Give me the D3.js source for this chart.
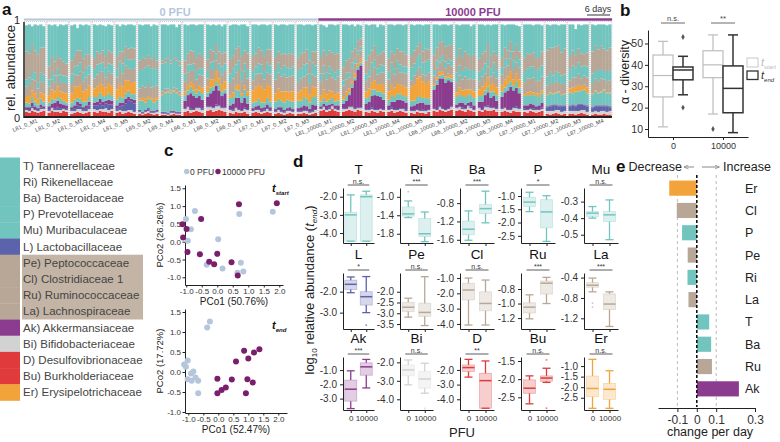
<!DOCTYPE html>
<html><head><meta charset="utf-8">
<script src="https://cdn.jsdelivr.net/npm/d3@7"></script>
<style>body{margin:0;background:#fff}svg{display:block}</style>
</head><body><svg width="780" height="442"></svg>
<script>
// ---------- DATA ----------
const aGroups = ["L81_0_M1","L81_0_M2","L81_0_M3","L81_0_M4","L81_0_M5","L85_0_M2","L85_0_M4","L86_0_M1","L86_0_M2","L86_0_M3","L87_0_M1","L87_0_M2","L87_0_M3",
"L81_10000_M1","L81_10000_M2","L81_10000_M3","L81_10000_M4","L81_10000_M5","L86_10000_M1","L86_10000_M2","L86_10000_M3","L86_10000_M4","L87_10000_M1","L87_10000_M2","L87_10000_M3","L87_10000_M4"];
const aDays = ["d0","d1","d2","d3","d4","d5","d6"];
const aD = [[5,4,6,5,4,5,6],[4,6,5,5,4,6,5],[3,4,5,4,3,4,5],[5,4,6,5,5,4,6],[4,5,3,4,5,4,3],[3,2,3,4,3,2,3],[2,2,1,2,3,2,2],[5,6,4,5,6,5,4],[6,7,5,6,7,6,5],[4,3,5,4,4,5,3],[4,5,4,3,4,5,4],[3,4,3,2,3,4,3],[3,3,4,3,2,3,4],
[6,7,5,6,8,6,5],[5,6,7,6,5,7,6],[5,4,6,5,4,6,5],[5,6,4,5,6,5,4],[4,3,5,4,4,3,5],[6,5,7,6,5,6,7],[6,7,6,5,7,6,5],[6,5,7,6,6,7,5],[5,6,5,4,6,5,5],[5,4,6,5,4,5,6],[3,2,3,4,3,2,3],[3,3,2,3,4,3,2],[2,3,2,2,3,2,2]];
const aBi = [[2,2,3,2,2,3,2],[2,3,2,2,3,2,2],[3,2,3,4,3,2,3],[3,3,2,3,4,3,2],[2,2,3,2,2,3,2],[2,1,2,2,1,2,2],[1,1,1,2,1,1,1],[3,4,3,2,3,4,3],[4,3,4,5,4,3,4],[3,3,4,3,2,3,4],[2,2,3,2,2,3,2],[2,3,2,2,3,2,2],[2,2,2,3,2,2,3],
[2,3,2,2,3,2,2],[3,2,3,4,3,2,3],[2,3,2,2,3,2,2],[2,2,3,2,2,3,2],[2,3,2,2,2,3,2],[2,2,3,2,2,2,3],[3,3,2,3,4,3,2],[3,2,3,4,3,2,3],[3,3,2,3,3,4,3],[2,3,2,2,3,2,2],[3,4,3,3,4,3,3],[3,3,4,3,3,4,3],[3,3,3,4,3,3,4]];
const aL = [[1,1,2,1,1,2,1],[2,1,2,3,2,1,2],[2,3,4,3,2,3,4],[4,5,6,4,5,6,5],[3,4,6,8,10,9,9],[1,1,1,2,1,1,1],[1,1,1,1,1,1,1],[1,1,2,1,1,1,2],[1,1,1,2,1,1,1],[1,2,1,1,1,2,1],[1,1,1,1,2,1,1],[1,1,2,1,1,1,1],[1,1,1,1,1,2,1],
[1,1,1,2,1,1,1],[1,1,1,1,1,1,1],[1,1,2,1,1,1,1],[1,2,1,1,1,1,2],[1,1,1,1,2,1,1],[1,1,1,1,1,1,1],[1,1,2,1,1,2,1],[1,1,1,2,1,1,1],[1,1,1,1,1,2,1],[2,1,1,2,1,1,2],[4,5,6,5,4,6,5],[5,6,5,7,6,5,6],[4,5,6,5,5,6,4]];
const aAk = [[2,3,4,3,2,3,2],[3,4,6,7,5,4,3],[2,3,4,3,2,3,4],[3,4,5,4,3,5,4],[3,4,3,5,4,3,4],[1,1,1,1,1,1,1],[1,1,1,1,1,1,1],[8,12,16,14,10,12,9],[10,14,18,20,16,12,15],[4,6,10,12,8,10,6],[2,3,4,3,2,4,3],[2,2,3,2,2,3,2],[3,4,5,4,3,6,4],
[2,3,4,3,2,3,4],[5,8,12,20,30,40,45],[6,8,12,15,14,12,10],[4,6,8,10,9,8,7],[4,5,6,8,7,6,5],[20,26,30,32,28,30,26],[3,4,5,4,3,5,4],[6,8,12,14,10,12,8],[12,16,20,24,18,20,16],[3,4,5,4,3,4,5],[1,1,1,1,1,1,1],[1,1,1,1,1,1,1],[1,1,1,1,1,1,1]];
const aT = [[5,4,6,5,4,6,5],[4,5,3,4,5,4,3],[5,6,4,5,6,4,5],[6,5,7,6,5,7,6],[6,7,5,6,7,5,6],[10,12,8,10,12,9,11],[18,20,22,19,21,20,18],[6,5,7,6,5,6,7],[5,6,4,5,6,5,4],[8,7,9,8,7,9,8],[6,5,7,6,5,7,6],[8,9,7,8,9,7,8],[8,7,9,8,7,8,9],
[5,6,4,5,6,4,5],[4,5,3,4,3,4,3],[6,5,7,6,5,6,7],[6,7,5,6,7,5,6],[6,5,7,6,5,7,6],[4,5,3,4,5,3,4],[8,9,7,8,9,7,8],[6,7,5,6,7,5,6],[6,5,7,6,5,7,6],[10,11,9,10,12,9,10],[12,13,11,12,14,11,12],[14,12,15,13,14,16,13],[14,15,13,14,16,13,14]];
const aEr = [[6,8,7,9,6,7,8],[8,10,9,11,8,9,10],[10,14,12,15,11,13,12],[9,11,10,12,9,11,10],[11,13,12,14,11,12,13],[2,3,4,3,2,4,3],[1,1,1,1,1,1,1],[4,6,5,7,4,5,6],[6,9,8,10,7,8,9],[3,5,4,6,3,4,5],[13,16,15,17,14,15,16],[9,11,10,12,9,10,11],[9,11,10,12,9,11,10],
[7,9,8,10,7,8,9],[4,5,4,3,4,3,4],[7,9,8,10,7,8,9],[9,11,10,12,9,11,10],[15,18,20,22,18,16,19],[2,3,4,3,2,4,3],[5,7,6,8,5,6,7],[7,9,8,10,7,9,8],[7,9,8,10,7,8,9],[2,3,4,3,2,4,3],[1,1,1,1,1,1,1],[4,6,5,7,4,5,6],[1,1,1,1,1,1,1]];
const aLa = [[11,13,12,14,11,12,13],[9,11,10,12,9,11,10],[11,13,12,14,11,13,12],[11,13,12,14,11,12,13],[13,15,14,16,13,14,15],[11,13,12,14,11,13,12],[3,4,3,2,3,4,3],[11,13,12,14,11,12,13],[9,11,10,12,9,10,11],[13,15,14,16,13,15,14],[11,13,12,14,11,12,13],[15,17,16,18,15,16,17],[11,13,12,14,11,13,12],
[15,17,16,18,15,16,17],[11,13,12,14,11,10,9],[11,13,12,14,11,12,13],[13,15,14,16,13,14,15],[7,9,8,10,7,8,9],[9,11,10,12,9,11,10],[11,13,12,14,11,12,13],[9,11,10,12,9,11,10],[11,13,12,14,11,12,13],[13,15,14,16,13,14,15],[9,11,10,12,9,11,10],[9,11,10,12,9,10,11],[11,13,12,14,11,12,13]];
const aBa = [[8,7,9,8,7,9,8],[8,9,7,8,9,7,8],[10,9,11,10,9,11,10],[10,11,9,10,11,9,10],[10,9,11,10,9,11,10],[20,18,22,19,21,20,18],[30,28,32,29,31,30,28],[8,9,7,8,9,7,8],[8,7,9,8,7,9,8],[10,11,9,10,11,9,10],[10,9,11,10,9,11,10],[10,11,9,10,11,9,10],[12,11,13,12,11,13,12],
[8,9,7,8,9,7,8],[6,7,5,6,5,4,4],[8,7,9,8,7,9,8],[8,9,7,8,9,7,8],[14,13,15,14,13,15,14],[6,7,5,6,7,5,6],[10,11,9,10,11,9,10],[10,9,11,10,9,11,10],[8,9,7,8,9,7,8],[12,11,13,12,11,13,12],[10,11,9,10,11,9,10],[12,13,11,12,13,11,12],[10,9,11,10,9,11,10]];
const aRu = [[30,26,28,24,30,27,29],[14,16,15,13,17,15,14],[14,12,16,13,15,14,12],[12,14,11,13,12,14,13],[12,11,13,10,12,13,11],[10,12,9,11,10,12,9],[3,4,3,3,2,3,4],[14,12,15,13,14,16,13],[12,14,11,10,13,14,12],[16,14,17,15,16,14,17],[16,14,17,15,16,14,17],[14,12,15,13,14,16,13],[14,16,13,15,14,12,15],
[18,16,19,17,18,20,17],[14,13,15,12,11,10,9],[14,16,13,15,14,12,15],[14,12,15,13,14,16,13],[12,14,11,13,12,14,11],[16,14,17,15,16,14,17],[16,18,15,17,16,14,17],[14,16,13,15,14,12,15],[10,12,9,11,10,12,9],[14,16,13,15,14,12,15],[28,26,30,27,29,25,28],[14,16,13,15,14,12,15],[24,26,23,25,24,22,25]];
const aMu = [[28,31,20,28,31,25,23],[45,33,40,32,37,39,42],[38,33,24,28,36,32,31],[36,28,31,27,32,28,29],[35,27,29,23,26,25,25],[39,35,37,33,35,35,38],[39,37,33,39,35,33,40],[39,30,28,29,35,31,34],[38,26,29,20,29,29,30],[36,33,26,23,34,28,29],[34,31,24,28,34,26,27],[35,28,32,31,31,31,32],[36,31,29,27,39,28,29],
[35,27,30,28,30,31,31],[46,39,36,29,24,18,14],[39,32,28,23,30,31,28],[37,29,31,26,29,28,32],[34,27,24,19,28,26,27],[33,25,18,18,24,22,22],[36,25,35,29,32,33,32],[37,31,28,20,32,29,33],[36,24,28,18,29,21,27],[36,31,32,29,36,35,28],[28,24,25,24,22,30,26],[34,28,28,26,30,32,30],[29,22,27,23,26,27,25]];

const legendNames = ["T) Tannerellaceae","Ri) Rikenellaceae","Ba) Bacteroidaceae","P) Prevotellaceae","Mu) Muribaculaceae","L) Lactobacillaceae","Pe) Peptococcaceae","Cl) Clostridiaceae 1","Ru) Ruminococcaceae","La) Lachnospiraceae","Ak) Akkermansiaceae","Bi) Bifidobacteriaceae","D) Desulfovibrionaceae","Bu) Burkholderiaceae","Er) Erysipelotrichaceae"];
const legendKeys = ["T","Ri","Ba","P","Mu","L","Pe","Cl","Ru","La","Ak","Bi","D","Bu","Er"];

// panel b
const bCats = ["0","10000"];
const bStart = [[11,25,35,44.6,51],[17,34,40,46.6,54]];
const bEnd = [[26,33,37.6,39,44],[8.3,17.6,29,39.5,54]];
const bStartOut = [[],[10]];
const bEndOut = [[53,20],[]];
const bSig = ["n.s.","**"];
const bTicks = [10,20,30,40,50];

// panel c
const cStartX0 = [-0.72,-1.01,-0.85,-0.95,0.03,0.71,1.79,-0.34,0.17,0.76,0.65,0.84];
const cStartY0 = [0.86,0.64,0.35,0.03,0.07,0.78,0.84,-0.65,-0.75,-0.59,-0.87,-0.84];
const cStartX1 = [-1.12,-0.99,-0.52,-1.10,-0.96,-0.56,-0.26,-0.10,0.0,0.46,0.66,0.70,1.92];
const cStartY1 = [0.49,0.36,0.64,0.12,-0.29,-0.35,-0.56,-0.63,-0.34,-0.58,-0.95,1.05,1.08];
const cEndX0 = [-0.28,-0.37,-1.14,-1.08,-1.02,-0.91,-0.83,-1.02,-0.89,-0.76,-0.67,-0.67];
const cEndY0 = [1.26,1.11,0.19,0.13,0.29,-0.04,0.01,-0.18,-0.22,-0.14,-0.22,-0.53];
const cEndX1 = [-0.03,-0.03,0.11,0.25,0.45,0.59,0.86,1.0,1.19,1.37,0.97,1.15,0.92];
const cEndY1 = [-0.17,-0.53,-0.45,-0.39,-0.19,0.26,0.53,0.34,0.49,0.57,-0.18,-0.26,-0.53];
const cTicksX = [-1.0,-0.5,0.0,0.5,1.0,1.5,2.0];
const cTicksY = [-1.0,-0.5,0.0,0.5,1.0,1.5];

// panel d
const dFam = ["T","Ri","Ba","P","Mu","L","Pe","Cl","Ru","La","Ak","Bi","D","Bu","Er"];
const dSig = ["n.s.","***","***","*","n.s.","*","n.s.","n.s.","***","***","***","n.s.","**","n.s.","n.s."];
const dBox0 = [[-4.45,-4.45,-3.0,-2.86,-1.9],[-1.45,-1.42,-1.37,-1.22,-1.09],[-1.61,-1.49,-1.37,-1.19,-0.97],[-1.59,-1.4,-1.23,-1.05,-0.86],[-0.40,-0.39,-0.37,-0.36,-0.33],
[-2.05,-1.9,-1.65,-1.45,-1.3],[-3.18,-2.92,-2.72,-2.49,-2.3],[-4.07,-2.43,-1.78,-1.34,-1.0],[-1.21,-1.13,-1.05,-0.99,-0.88],[-0.68,-0.59,-0.55,-0.5,-0.41],
[-3.7,-3.18,-2.34,-1.7,-1.05],[-3.22,-2.73,-2.41,-2.14,-1.87],[-2.49,-2.11,-1.84,-1.66,-1.28],[-2.68,-2.39,-2.25,-2.02,-1.91],[-3.0,-2.45,-2.06,-1.47,-0.68]];
const dBox1 = [[-4.45,-4.45,-2.0,-1.9,-1.7],[-1.97,-1.86,-1.8,-1.47,-1.33],[-1.23,-1.03,-0.92,-0.83,-0.54],[-2.71,-2.2,-1.6,-1.14,-0.99],[-0.53,-0.42,-0.38,-0.36,-0.29],
[-3.0,-2.64,-2.24,-2.0,-1.28],[-3.57,-3.14,-2.96,-2.53,-1.3],[-4.07,-3.14,-2.66,-1.9,-1.13],[-1.0,-0.87,-0.72,-0.69,-0.64],[-1.36,-1.03,-0.92,-0.72,-0.68],
[-2.25,-1.36,-0.77,-0.49,-0.25],[-3.67,-3.4,-2.9,-2.5,-2.05],[-4.61,-4.61,-2.73,-2.23,-1.39],[-2.09,-2.06,-1.97,-1.91,-1.7],[-3.0,-2.58,-2.1,-1.82,-1.22]];
const dOut0 = [[],[-0.89],[],[],[],[],[],[],[],[-0.9,-0.98],[],[],[],[],[]];
const dOut1 = [[],[],[],[],[],[-3.6],[],[],[],[],[],[-4.5],[],[-1.47,-2.8],[]];
const dDomain = [[-4.55,-1.52],[-2.0,-0.81],[-1.67,-0.47],[-2.77,-0.7],[-0.55,-0.218],
[-3.78,-1.11],[-3.73,-1.13],[-4.33,-0.67],[-1.35,-0.58],[-1.41,-0.31],
[-3.8,-0.08],[-4.58,-1.71],[-4.73,-1.12],[-2.85,-1.39],[-3.08,-0.57]];
const dTicks = [[-2,-3,-4],[-1.0,-1.4,-1.8],[-0.8,-1.2,-1.6],[-1.0,-1.5,-2.0,-2.5],[-0.3,-0.4,-0.5],
[-2,-3],[-2.0,-2.5,-3.0,-3.5],[-1,-2,-3,-4],[-0.8,-1.0,-1.2],[-0.4,-0.8,-1.2],
[-1,-2,-3],[-2,-3,-4],[-2,-3,-4],[-1.5,-2.0,-2.5],[-1.0,-1.5,-2.0,-2.5]];
const dCats = ["0","10000"];

// panel e
const eCats = ["Er","Cl","P","Pe","Ri","La","T","Ba","Ru","Ak"];
const eVals = [-0.142,-0.103,-0.076,-0.047,-0.048,-0.043,0.064,0.074,0.078,0.217];
const eTicks = [-0.1,0,0.1,0.3];

// ---------- STYLE ----------
const FONT = "'Liberation Sans', Arial, Helvetica, sans-serif";
const TEAL="#72c5bf", TAN="#b8a797", BLUE="#5b63ad", PURPLE="#8c3c8e", GRAY="#d2d2d2", RED="#e03a3c", ORANGE="#f2a33a";
const famColor = {T:TEAL,Ri:TEAL,Ba:TEAL,P:TEAL,Mu:TEAL,L:BLUE,Pe:TAN,Cl:TAN,Ru:TAN,La:TAN,Ak:PURPLE,Bi:GRAY,D:RED,Bu:RED,Er:ORANGE};
const PFU0 = "#b5c6dc", PFU1 = "#8c3c8e", CPUR = "#7a1f6c";
const hy = s => s.replace("\u2212","-");
const f1 = d => hy(d3.format(".1f")(d));

const svg = d3.select("svg").attr("font-family", FONT);
function T(g,x,y,s,o={}){const t=g.append("text").attr("x",x).attr("y",y).text(s).attr("font-size",o.fs||11).attr("fill",o.fill||"#222");
 if(o.anchor) t.attr("text-anchor",o.anchor); if(o.bold) t.attr("font-weight","bold"); if(o.italic) t.attr("font-style","italic");
 if(o.rot!=null) t.attr("transform",`rotate(${o.rot},${x},${y})`); return t;}
function styleAxis(g,fs){g.attr("font-family",FONT);g.selectAll("path.domain").attr("stroke","#222").attr("stroke-width",1);
 g.selectAll(".tick line").attr("stroke","#222");g.selectAll(".tick text").attr("font-size",fs).attr("fill","#333");}

// ---------- PANEL A ----------
const A = svg.append("g");
T(A,2,15,"a",{fs:17,bold:true,fill:"#111"});
const aX = d3.scaleBand().domain(aGroups).range([24,612]).paddingInner(0.115).paddingOuter(0.04);
const aY = d3.scaleLinear().domain([0,100]).range([116.5,23.5]);
const keys = ["D","Bi","L","Ak","T","Er","La","Ba","Ru","Mu"];
const src = {D:aD,Bi:aBi,L:aL,Ak:aAk,T:aT,Er:aEr,La:aLa,Ba:aBa,Ru:aRu,Mu:aMu};
const kCol = {D:RED,Bi:GRAY,L:BLUE,Ak:PURPLE,T:TEAL,Er:ORANGE,La:TAN,Ba:TEAL,Ru:TAN,Mu:TEAL};
const rows=[];
aGroups.forEach((g,gi)=>aDays.forEach((d,di)=>{const r={g,d};keys.forEach(k=>r[k]=src[k][gi][di]);rows.push(r);}));
const inner = d3.scaleBand().domain(aDays).range([0,aX.bandwidth()]).padding(0);
A.selectAll("rect.frame").data(aGroups).join("rect").attr("class","frame")
 .attr("x",g=>aX(g)-0.8).attr("y",21.5).attr("width",aX.bandwidth()+1.6).attr("height",95)
 .attr("fill","#fff").attr("stroke","#bbb").attr("stroke-width",0.8).attr("stroke-dasharray","1,1");
const series = d3.stack().keys(keys)(rows);
series.forEach(s=>{
 A.append("g").selectAll("rect").data(s).join("rect")
  .attr("x",p=>aX(p.data.g)+inner(p.data.d)).attr("width",inner.bandwidth()+0.35)
  .attr("y",p=>aY(p[1])).attr("height",p=>aY(p[0])-aY(p[1])).attr("fill",kCol[s.key]);
});
A.append("line").attr("x1",24).attr("x2",612).attr("y1",117).attr("y2",117).attr("stroke","#222").attr("stroke-width",2);
A.append("line").attr("x1",24).attr("x2",24).attr("y1",22).attr("y2",118).attr("stroke","#222").attr("stroke-width",1.5);
T(A,20,24,"1",{fs:11,anchor:"end"});
T(A,20,122,"0",{fs:11,anchor:"end"});
T(A,15,68,"rel. abundance",{fs:13,anchor:"middle",rot:-90});
aGroups.forEach(g=>{const x=aX(g)+aX.bandwidth()/2+3;
 T(A,x,122,g,{fs:5.6,anchor:"end",fill:"#444"}).attr("transform",`rotate(-22,${x},122)`);});
const g0 = aGroups.slice(0,13), g1 = aGroups.slice(13);
A.append("line").attr("x1",aX(g0[0])-1).attr("x2",aX(g0[12])+aX.bandwidth()+1).attr("y1",19.5).attr("y2",19.5).attr("stroke",PFU0).attr("stroke-width",2);
A.append("line").attr("x1",aX(g1[0])-1).attr("x2",aX(g1[12])+aX.bandwidth()+1).attr("y1",19.5).attr("y2",19.5).attr("stroke",PFU1).attr("stroke-width",2.5);
T(A,175,16,"0 PFU",{fs:11,bold:true,anchor:"middle",fill:PFU0});
T(A,473,16,"10000 PFU",{fs:11,bold:true,anchor:"middle",fill:PFU1});
T(A,598,12,"6 days",{fs:9,anchor:"middle",fill:"#333"});
A.append("line").attr("x1",587).attr("x2",610).attr("y1",15).attr("y2",15).attr("stroke","#777").attr("stroke-width",1.5);

// ---------- LEGEND ----------
const Lg = svg.append("g");
const lStep = 16.2, lTop = 157.5;
Lg.append("rect").attr("x",22).attr("y",lTop+6*lStep).attr("width",121).attr("height",4*lStep).attr("fill",TAN).attr("opacity",0.85);
legendKeys.forEach((k,i)=>{
 Lg.append("rect").attr("x",0).attr("y",lTop+i*lStep).attr("width",20).attr("height",lStep+0.3).attr("fill",famColor[k]);
 T(Lg,23,lTop+i*lStep+lStep/2+4,legendNames[i],{fs:11.5,fill:"#444"});
});

// ---------- PANEL B ----------
const B = svg.append("g");
T(B,620,16,"b",{fs:17,bold:true,fill:"#111"});
const by = d3.scaleLinear().domain([6.26,56.3]).range([137,30]);
const bx = d3.scalePoint().domain(bCats).range([648,748]).padding(0.5);
const bya = B.append("g").attr("transform","translate(648,0)").call(d3.axisLeft(by).tickValues(bTicks).tickSize(3).tickPadding(2).tickSizeOuter(0));
styleAxis(bya,10.5);
const bxa = B.append("g").attr("transform","translate(0,137)").call(d3.axisBottom(bx).tickSize(3).tickSizeOuter(0));
styleAxis(bxa,9);
T(B,629,72,"\u03b1 - diversity",{fs:12.5,anchor:"middle",rot:-90});
function bBox(stats,cx,col,sw){
 const [wl,q1,md,q3,wh]=stats;
 B.append("line").attr("x1",cx).attr("x2",cx).attr("y1",by(wh)).attr("y2",by(q3)).attr("stroke",col).attr("stroke-width",sw);
 B.append("line").attr("x1",cx).attr("x2",cx).attr("y1",by(q1)).attr("y2",by(wl)).attr("stroke",col).attr("stroke-width",sw);
 [wl,wh].forEach(v=>B.append("line").attr("x1",cx-5).attr("x2",cx+5).attr("y1",by(v)).attr("y2",by(v)).attr("stroke",col).attr("stroke-width",sw));
 B.append("rect").attr("x",cx-10).attr("width",20).attr("y",by(q3)).attr("height",by(q1)-by(q3)).attr("fill","#fff").attr("stroke",col).attr("stroke-width",sw);
 B.append("line").attr("x1",cx-10).attr("x2",cx+10).attr("y1",by(md)).attr("y2",by(md)).attr("stroke",col).attr("stroke-width",sw);
}
bCats.forEach((c,i)=>{
 const cx=bx(c);
 bBox(bStart[i],cx-10,"#bdbdbd",1.2);
 bBox(bEnd[i],cx+10,"#333",1.5);
 bStartOut[i].forEach(v=>B.append("path").attr("d",d3.symbol(d3.symbolDiamond,10)()).attr("transform",`translate(${cx-10},${by(v)})`).attr("fill","#555"));
 bEndOut[i].forEach(v=>B.append("path").attr("d",d3.symbol(d3.symbolDiamond,10)()).attr("transform",`translate(${cx+10},${by(v)})`).attr("fill","#555"));
 B.append("line").attr("x1",cx-12).attr("x2",cx+12).attr("y1",23).attr("y2",23).attr("stroke","#444").attr("stroke-width",0.8);
 T(B,cx,21,bSig[i],{fs:7.5,anchor:"middle",fill:"#444"});
});
B.append("rect").attr("x",747).attr("y",58).attr("width",11).attr("height",9).attr("fill","#fff").attr("stroke","#c8c8c8").attr("stroke-width",1);
B.append("rect").attr("x",747).attr("y",71).attr("width",11).attr("height",8.5).attr("fill","#fff").attr("stroke","#333").attr("stroke-width",1.3);
function subLabel(g,x,y,main,sub,fs,fill,bold){
 const t=g.append("text").attr("x",x).attr("y",y).attr("fill",fill).attr("font-size",fs).attr("font-style","italic");
 if(bold) t.attr("font-weight","bold");
 t.append("tspan").text(main);
 t.append("tspan").text(sub).attr("font-size",fs*0.55).attr("dy",fs*0.3);
 return t;}
subLabel(B,761,66,"t","start",11,"#bbb");
subLabel(B,761,79,"t","end",11,"#333");

// ---------- PANEL C ----------
const C = svg.append("g");
T(C,164,156,"c",{fs:17,bold:true,fill:"#111"});
C.append("circle").attr("cx",186.7).attr("cy",171.5).attr("r",2.7).attr("fill",PFU0);
T(C,190,174.5,"0 PFU",{fs:8.5,fill:"#333"});
C.append("circle").attr("cx",218).attr("cy",171.5).attr("r",2.7).attr("fill",CPUR);
T(C,222,174.5,"10000 PFU",{fs:8.5,fill:"#333"});
function scatter(xd,yd,xr,yr,X0,Y0,X1,Y1,xl,yl,tl,tlY){
 const x=d3.scaleLinear().domain(xd).range(xr), y=d3.scaleLinear().domain(yd).range(yr);
 const ya=C.append("g").attr("transform",`translate(${xr[0]},0)`).call(d3.axisLeft(y).tickValues(cTicksY).tickFormat(f1).tickSize(2.5).tickPadding(1.5).tickSizeOuter(0));
 styleAxis(ya,8);
 const xa=C.append("g").attr("transform",`translate(0,${yr[0]})`).call(d3.axisBottom(x).tickValues(cTicksX).tickFormat(f1).tickSize(2.5).tickPadding(1).tickSizeOuter(0));
 styleAxis(xa,8);
 X0.forEach((v,i)=>C.append("circle").attr("cx",x(v)).attr("cy",y(Y0[i])).attr("r",3).attr("fill",PFU0));
 X1.forEach((v,i)=>C.append("circle").attr("cx",x(v)).attr("cy",y(Y1[i])).attr("r",3).attr("fill",CPUR));
 T(C,(xr[0]+xr[1])/2,yr[0]+20,xl,{fs:10,anchor:"middle"});
 T(C,163,(yr[0]+yr[1])/2,yl,{fs:9.5,anchor:"middle",rot:-90});
 subLabel(C,272,tlY,"t",tl,11,"#111",true);
}
scatter([-1.04,2.12],[-1.216,1.593],[185,283],[285,185],cStartX0,cStartY0,cStartX1,cStartY1,"PCo1 (50.76%)","PCo2 (26.26%)","start",192);
scatter([-1.11,2.29],[-1.025,1.575],[185,287],[413,309],cEndX0,cEndY0,cEndX1,cEndY1,"PCo1 (52.47%)","PCo2 (17.72%)","end",329);

// ---------- PANEL D ----------
const D = svg.append("g");
T(D,293,167,"d",{fs:17,bold:true,fill:"#111"});
const dCols = [[343,374],[400,433],[460,494],[521,555],[584,618]];
const dRows = [[188,243],[273,329],[357,410]];
dFam.forEach((f,i)=>{
 const r=Math.floor(i/5), c=i%5;
 const [x0,x1]=dCols[c], [y0,y1]=dRows[r];
 const y=d3.scaleLinear().domain(dDomain[i]).range([y1,y0]);
 const x=d3.scalePoint().domain(dCats).range([x0,x1]).padding(0.5);
 const col=famColor[f];
 const ya=D.append("g").attr("transform",`translate(${x0},0)`).call(d3.axisLeft(y).tickValues(dTicks[i]).tickFormat(f1).tickSize(3).tickSizeOuter(0));
 styleAxis(ya,10);
 const xa=D.append("g").attr("transform",`translate(0,${y1})`).call(d3.axisBottom(x).tickSize(3).tickPadding(2).tickSizeOuter(0).tickFormat(r===2?(d=>d):(()=>"")));
 styleAxis(xa,8);
 const cx=(x0+x1)/2;
 T(D,cx,y0-14,f,{fs:13.5,anchor:"middle",fill:"#111"});
 T(D,cx,y0-4,dSig[i],{fs:7,anchor:"middle",fill:"#333"});
 D.append("line").attr("x1",x(dCats[0])-3).attr("x2",x(dCats[1])+3).attr("y1",y0-3).attr("y2",y0-3).attr("stroke","#333").attr("stroke-width",0.8);
 [dBox0[i],dBox1[i]].forEach((s,j)=>{
  const bxc=x(dCats[j]); const [wl,q1,md,q3,wh]=s;
  D.append("rect").attr("x",bxc-6).attr("width",12).attr("y",y(q3)).attr("height",Math.max(0.5,y(q1)-y(q3)))
   .attr("fill",col).attr("fill-opacity",0.25).attr("stroke",col).attr("stroke-opacity",0.35).attr("stroke-width",0.8);
  D.append("line").attr("x1",bxc).attr("x2",bxc).attr("y1",y(wh)).attr("y2",y(q3)).attr("stroke",col).attr("stroke-width",1.3);
  D.append("line").attr("x1",bxc).attr("x2",bxc).attr("y1",y(q1)).attr("y2",y(wl)).attr("stroke",col).attr("stroke-width",1.3);
  [wl,wh].forEach(v=>D.append("line").attr("x1",bxc-4).attr("x2",bxc+4).attr("y1",y(v)).attr("y2",y(v)).attr("stroke",col).attr("stroke-width",1.3));
  D.append("line").attr("x1",bxc-6).attr("x2",bxc+6).attr("y1",y(md)).attr("y2",y(md)).attr("stroke",col).attr("stroke-width",1.5);
  (j===0?dOut0[i]:dOut1[i]).forEach(v=>D.append("circle").attr("cx",bxc).attr("cy",y(v)).attr("r",0.9).attr("fill",col).attr("opacity",0.7));
 });
});
const dl = D.append("text").attr("transform","translate(314,290) rotate(-90)").attr("text-anchor","middle").attr("font-size",13).attr("fill","#222");
dl.append("tspan").text("log");
dl.append("tspan").text("10").attr("font-size",8).attr("dy",3);
dl.append("tspan").text(" relative abundance (").attr("dy",-3);
dl.append("tspan").text("t").attr("font-style","italic");
dl.append("tspan").text("end").attr("font-style","italic").attr("font-size",8).attr("dy",3);
dl.append("tspan").text(")").attr("dy",-3);
T(D,462,437,"PFU",{fs:13,anchor:"middle"});

// ---------- PANEL E ----------
const E = svg.append("g");
T(E,616,172,"e",{fs:17,bold:true,fill:"#111"});
T(E,682,171,"Decrease",{fs:12.5,anchor:"end"});
T(E,723,171,"Increase",{fs:12.5});
svg.append("defs").append("marker").attr("id","ah").attr("viewBox","0 0 10 10").attr("refX",9).attr("refY",5)
 .attr("markerWidth",5).attr("markerHeight",5).attr("orient","auto").append("path").attr("d","M0,1L10,5L0,9").attr("fill","none").attr("stroke","#888").attr("stroke-width",1.5);
E.append("line").attr("x1",694).attr("x2",684).attr("y1",167).attr("y2",167).attr("stroke","#888").attr("stroke-width",1).attr("marker-end","url(#ah)");
E.append("line").attr("x1",702).attr("x2",719).attr("y1",167).attr("y2",167).attr("stroke","#888").attr("stroke-width",1).attr("marker-end","url(#ah)");
const ex = d3.scaleLinear().domain([-0.2,0.3]).range([658,755]);
const ey = d3.scaleBand().domain(eCats).range([177,400]).paddingInner(0.32).paddingOuter(0.16);
[-0.1,0.1].forEach(v=>E.append("line").attr("x1",ex(v)).attr("x2",ex(v)).attr("y1",175).attr("y2",407).attr("stroke","#bbb").attr("stroke-width",1).attr("stroke-dasharray","3,3"));
E.selectAll("rect.eb").data(eCats).join("rect").attr("class","eb")
 .attr("x",(c,i)=>Math.min(ex(0),ex(eVals[i]))).attr("width",(c,i)=>Math.abs(ex(eVals[i])-ex(0)))
 .attr("y",c=>ey(c)).attr("height",ey.bandwidth()).attr("fill",c=>famColor[c]);
E.append("line").attr("x1",ex(0)).attr("x2",ex(0)).attr("y1",175).attr("y2",407).attr("stroke","#111").attr("stroke-width",1.6).attr("stroke-dasharray","3,2");
eCats.forEach(c=>T(E,745,ey(c)+ey.bandwidth()/2+4.5,c,{fs:12.5,fill:"#222"}));
const exa = E.append("g").attr("transform","translate(0,408)").call(d3.axisBottom(ex).tickValues(eTicks).tickFormat(d=>d===0?"0":f1(d)).tickSize(4).tickSizeOuter(0));
styleAxis(exa,12);
T(E,710,436,"change per day",{fs:12.5,anchor:"middle"});
</script></body></html>
